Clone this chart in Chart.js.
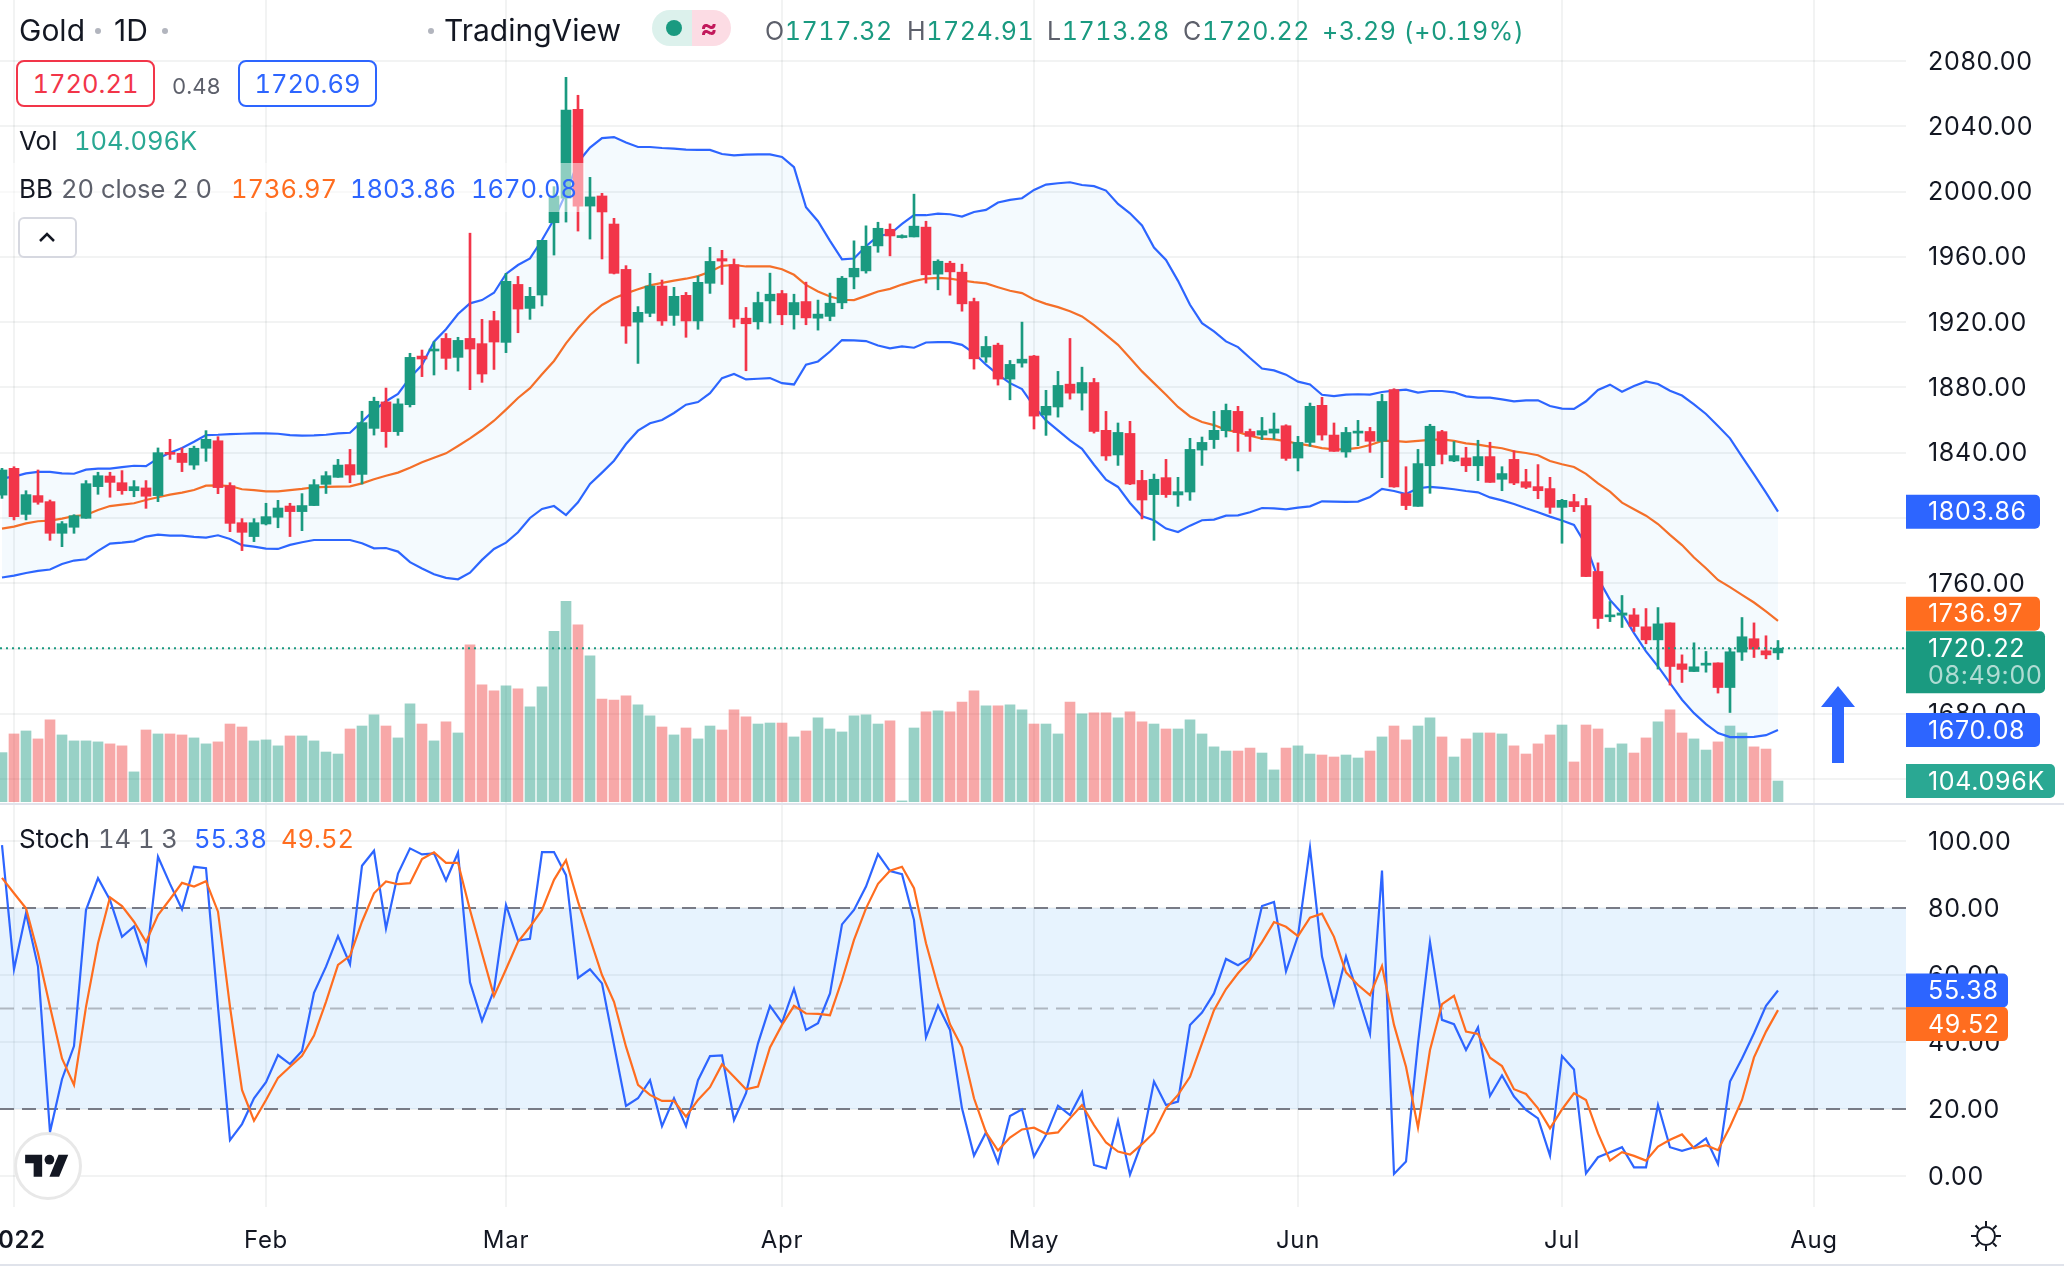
<!DOCTYPE html>
<html lang="en">

<head>
    <meta charset="UTF-8">
    <title>Gold 1D - TradingView</title>
    <script src="https://cdn.jsdelivr.net/npm/chart.js"></script>
    <style>
        html, body { margin: 0; padding: 0; background: #fff; }
        body { width: 2064px; height: 1266px; position: relative; overflow: hidden; font-family: Inter, sans-serif; color: #131722; }
        canvas { position: absolute; left: 0; display: block; }
        #pricePane { top: 0; }
        #stochPane { top: 804px; }
        .abs { position: absolute; white-space: nowrap; line-height: 1; }
        .title { font-size: 30px; top: 15px; }
        .dot { position: absolute; width: 6px; height: 6px; border-radius: 50%; background: #b2b5be; top: 28px; }
        .ohlc { font-size: 25px; top: 19px; color: #1a9a80; font-variant-numeric: tabular-nums; letter-spacing: .6px; }
        .ohlc b { font-weight: 400; color: #5d606b; }
        .box { position: absolute; top: 60px; height: 43px; width: 135px; border: 2px solid; border-radius: 8px; font-size: 25.5px; line-height: 43px; text-align: center; background: #fff; font-variant-numeric: tabular-nums; }
        .row { font-size: 26px; }
        .num { font-size: 25.5px; font-variant-numeric: tabular-nums; }
        .gray { color: #5d606b; }
        .rule { position: absolute; left: 0; width: 2064px; height: 2px; background: #e0e3eb; }
    </style>
</head>

<body>
    <canvas id="pricePane" width="2064" height="804"></canvas>
    <canvas id="stochPane" width="2064" height="462"></canvas>
    <div class="rule" style="top:803px"></div>
    <div class="rule" style="top:1264px"></div>

    <!-- Legend rows -->
    <div class="abs" style="left:0;top:163px;width:585px;height:49px;background:rgba(255,255,255,.5)"></div>
    <div class="abs title" style="left:19px">Gold</div>
    <div class="dot" style="left:95px"></div>
    <div class="abs title" style="left:114px">1D</div>
    <div class="dot" style="left:162px"></div>
    <div class="dot" style="left:428px"></div>
    <div class="abs title" style="left:444px">TradingView</div>

    <div class="abs" style="left:652px;top:10px;width:40px;height:36px;background:#dcf1ec;border-radius:18px 0 0 18px"></div>
    <div class="abs" style="left:692px;top:10px;width:39px;height:36px;background:#fcdce4;border-radius:0 18px 18px 0"></div>
    <div class="abs" style="left:666px;top:20px;width:16px;height:16px;border-radius:50%;background:#1a9a80"></div>
    <div class="abs" style="left:700px;top:15px;font-size:26px;font-weight:700;color:#c2185b">≈</div>

    <div class="abs ohlc" style="left:765px"><b>O</b>1717.32</div>
    <div class="abs ohlc" style="left:907px"><b>H</b>1724.91</div>
    <div class="abs ohlc" style="left:1047px"><b>L</b>1713.28</div>
    <div class="abs ohlc" style="left:1183px"><b>C</b>1720.22</div>
    <div class="abs ohlc" style="left:1322px">+3.29 (+0.19%)</div>

    <div class="box" style="left:16px;border-color:#f23549;color:#f23549">1720.21</div>
    <div class="abs gray" style="left:172px;top:75px;font-size:22px;font-variant-numeric:tabular-nums">0.48</div>
    <div class="box" style="left:238px;border-color:#2d65ff;color:#2d65ff">1720.69</div>

    <div class="abs row" style="left:19px;top:128px">Vol</div>
    <div class="abs num" style="left:74px;top:128px;color:#2aa893">104.096K</div>

    <div class="abs row" style="left:19px;top:176px">BB</div>
    <div class="abs num gray" style="left:61px;top:176px">20 close 2 0</div>
    <div class="abs num" style="left:231px;top:176px;color:#ff6d1f">1736.97</div>
    <div class="abs num" style="left:350px;top:176px;color:#2d65ff">1803.86</div>
    <div class="abs num" style="left:471px;top:176px;color:#2d65ff">1670.08</div>

    <div class="abs" style="left:18px;top:217px;width:55px;height:37px;border:2px solid #d6d8e0;border-radius:6px;background:#fff"></div>
    <svg class="abs" style="left:37px;top:230px" width="20" height="14" viewBox="0 0 20 14">
        <path d="M3 11 L10 4 L17 11" fill="none" stroke="#131722" stroke-width="2.5"/>
    </svg>

    <div class="abs row" style="left:19px;top:826px">Stoch</div>
    <div class="abs num gray" style="left:98px;top:826px">14 1 3</div>
    <div class="abs num" style="left:194px;top:826px;color:#2d65ff">55.38</div>
    <div class="abs num" style="left:281px;top:826px;color:#ff6d1f">49.52</div>

    <!-- Logo, arrow drawing and theme icon -->
    <div class="abs" style="left:14px;top:1132px;width:62px;height:62px;border:3px solid #e8e8e8;border-radius:50%;background:#fff"></div>
    <svg class="abs" style="left:25px;top:1150px" width="44" height="34" viewBox="0 0 36 28">
        <path fill="#131722" d="M14 22H7V11H0V4h14v18zM28 22h-8l7.5-18h8L28 22z"/>
        <circle fill="#131722" cx="20" cy="8" r="4"/>
    </svg>
    <svg class="abs" style="left:1820px;top:684px" width="36" height="82" viewBox="0 0 36 82">
        <path fill="#2d65ff" d="M18 2 L35 23 L24 23 L24 79 L12 79 L12 23 L1 23 Z"/>
    </svg>
    <svg class="abs" style="left:1970px;top:1220px" width="32" height="32" viewBox="0 0 32 32">
        <circle cx="16" cy="16" r="9" fill="none" stroke="#131722" stroke-width="2"/>
        <path d="M16 1v5M16 26v5M1 16h5M26 16h5M5.5 5.5l3.5 3.5M23 23l3.5 3.5M5.5 26.5l3.5-3.5M23 9l3.5-3.5" stroke="#131722" stroke-width="2"/>
    </svg>

    <script>
        const opens = [1814, 1830.4, 1802.2, 1813.7, 1810, 1790.6, 1794.3, 1799.8, 1819.2, 1825.7,
            1821.6, 1816.7, 1818.4, 1813.7, 1840.2, 1839.6, 1832.4, 1842.7, 1847.3, 1819.8,
            1797.1, 1788.6, 1796.3, 1800.4, 1807.3, 1803.9, 1807.6, 1820.6, 1824.9, 1832.7,
            1826.7, 1854.9, 1871.1, 1852.9, 1869.4, 1899.2, 1902.3, 1910, 1898.4, 1910,
            1906.8, 1920.9, 1907.6, 1943.1, 1928.4, 1936.6, 1980.9, 1996, 2050.4, 1991.1,
            1997.3, 1980.1, 1952.3, 1920, 1925.4, 1942.1, 1924.1, 1936.4, 1920.7, 1943.8,
            1958.9, 1955.2, 1922.4, 1920.2, 1933, 1937.5, 1924.5, 1932.6, 1922.4, 1923.5,
            1931.8, 1947.7, 1951.4, 1966.7, 1976.9, 1971.8, 1972.2, 1978.2, 1949.4, 1956.1,
            1950.6, 1932.6, 1898.6, 1905.9, 1885.1, 1894.9, 1899.2, 1863, 1868, 1882,
            1876.5, 1883, 1853.7, 1838.6, 1851.8, 1823, 1814.3, 1824.7, 1814.1, 1815.9,
            1841.6, 1848, 1853.5, 1865.3, 1853, 1850.8, 1852, 1856.5, 1836.7, 1846.3,
            1869, 1850.8, 1840.4, 1852, 1853, 1847, 1878.6, 1814.9, 1807.1, 1832,
            1852.9, 1834.9, 1836.8, 1832, 1837.6, 1823.7, 1835.9, 1822.2, 1819.2, 1818,
            1806.5, 1810, 1807.6, 1767.2, 1739.4, 1740.4, 1740.6, 1733.3, 1725.3, 1735.7,
            1710.6, 1705.9, 1709.8, 1711.2, 1696.1, 1717.8, 1726, 1718.6, 1717.32];

        const closes = [1829.4, 1800.8, 1814.3, 1809.6, 1790.6, 1796.5, 1801.4, 1821, 1825.9, 1821.8,
            1816.7, 1819.2, 1813.3, 1840, 1839, 1834, 1842.7, 1848.2, 1818.6, 1796.7,
            1791.2, 1797.1, 1800.8, 1806.1, 1803.9, 1807.6, 1820.4, 1825.9, 1832.4, 1826.3,
            1858.4, 1871.5, 1852.9, 1869.9, 1898.4, 1897.4, 1903.3, 1897.8, 1908.8, 1903.5,
            1888.2, 1907.8, 1945, 1928, 1935.8, 1970.1, 1997.3, 2050, 1991.1, 1996.7,
            1987.5, 1949.9, 1917.6, 1926, 1942.1, 1920.7, 1935.8, 1920.7, 1944.4, 1957.2,
            1957.4, 1921.9, 1919, 1932, 1937.1, 1924.5, 1932, 1922.6, 1924.9, 1931.6,
            1946.9, 1953, 1966.5, 1977.5, 1972.8, 1973, 1978.8, 1949, 1957.3, 1950.8,
            1931.2, 1897.5, 1905.1, 1885.1, 1894.1, 1897.3, 1862.4, 1868.4, 1881.2, 1876.5,
            1883, 1853, 1838, 1852.4, 1820.8, 1811, 1823.7, 1814.3, 1816.1, 1842,
            1846.3, 1853.7, 1865.9, 1852.4, 1850, 1853.5, 1854.5, 1836.5, 1846.3, 1868.4,
            1850.8, 1840.8, 1852.4, 1853, 1847, 1871.4, 1819, 1807.6, 1833.3, 1856.2,
            1839, 1838.2, 1832, 1837.6, 1821.8, 1827.2, 1821.4, 1818.8, 1816.7, 1806.5,
            1810.8, 1806.9, 1764.1, 1738.4, 1740.4, 1741.8, 1733.5, 1725.3, 1735.1, 1709,
            1707.2, 1708.8, 1711, 1696.1, 1718, 1727.2, 1719.6, 1716.1, 1720.22];

        const highs = [1830.4, 1831.4, 1816.7, 1829.4, 1811, 1797.8, 1802, 1822.9, 1828, 1828,
            1829, 1822.9, 1822.9, 1842.9, 1848.2, 1842.9, 1844, 1853.5, 1849.8, 1821.6,
            1799.6, 1799.6, 1809, 1810.8, 1809, 1814.9, 1823.5, 1828.4, 1835.9, 1842,
            1865.4, 1874, 1879.6, 1873, 1900.9, 1902.9, 1908, 1913, 1910.7, 1974.5,
            1921.7, 1926.6, 1949.9, 1948, 1941.3, 1970.1, 2003, 2070, 2059, 2008.7,
            1998.9, 1983.6, 1954.6, 1929.5, 1949.9, 1945.8, 1941.3, 1938.2, 1948.2, 1965.8,
            1964, 1958.7, 1929, 1938.4, 1950, 1939.4, 1937.1, 1944.5, 1933.5, 1937.8,
            1948, 1969.8, 1979, 1981.2, 1980.2, 1973.5, 1998.4, 1981.8, 1958.2, 1957.3,
            1955.5, 1934.7, 1911.2, 1907.1, 1896.5, 1920, 1899.6, 1878.2, 1889.8, 1910,
            1892.4, 1885.5, 1865.3, 1858.2, 1859.2, 1829.2, 1826.9, 1835.9, 1824.9, 1848.8,
            1849.6, 1865.3, 1869.8, 1868.4, 1854.5, 1861.6, 1864.3, 1857.1, 1850, 1870.4,
            1873.9, 1858.2, 1855.5, 1859.8, 1855.5, 1875.8, 1879.2, 1831.4, 1842, 1857.4,
            1853.7, 1846.8, 1843.3, 1847.6, 1846.4, 1831.4, 1841.2, 1829.8, 1832.7, 1824.9,
            1811.4, 1814.5, 1812, 1772.5, 1748.8, 1752.5, 1744.5, 1744.5, 1745.1, 1735.7,
            1716.1, 1723.5, 1718.2, 1711.2, 1720.2, 1739, 1735.7, 1727.8, 1724.91];

        const lows = [1812, 1798.8, 1798.8, 1808.4, 1786.3, 1782.4, 1790.6, 1799.8, 1814.5, 1812.7,
            1814.5, 1813, 1805.9, 1810, 1835.9, 1828.4, 1829.8, 1834.7, 1814.9, 1791.6,
            1780, 1785.5, 1795.7, 1794, 1788.6, 1792.2, 1807.6, 1815, 1824.9, 1821.6,
            1820.8, 1850.8, 1843.3, 1850.6, 1868, 1886.6, 1887.6, 1891, 1890, 1878.6,
            1883.1, 1891, 1901.3, 1913.5, 1921.7, 1929.9, 1961.1, 1981.3, 1975.8, 1970.9,
            1958.7, 1949.5, 1907, 1894.7, 1923.3, 1918, 1918, 1910.7, 1915.6, 1937.6,
            1943.1, 1916.8, 1890.2, 1915.7, 1919.4, 1918.4, 1915.7, 1918.4, 1915.1, 1920.8,
            1928.2, 1940.4, 1950, 1962.8, 1960.6, 1971.5, 1972.2, 1943.9, 1939.8, 1936.5,
            1926.7, 1891.2, 1895.3, 1881.4, 1872.4, 1892.4, 1854.5, 1850.6, 1861.8, 1872.8,
            1866.1, 1852, 1835.3, 1832.2, 1820.4, 1799.4, 1786.3, 1812.6, 1807.1, 1810.8,
            1832.2, 1842.6, 1849.6, 1840.8, 1840.8, 1848, 1848.4, 1835.3, 1828.8, 1843.9,
            1847.7, 1840.8, 1837.2, 1844.3, 1840.2, 1824.7, 1818.8, 1805.1, 1807.1, 1815.1,
            1833.1, 1834.5, 1828.4, 1822.9, 1821.8, 1816.7, 1820.4, 1818, 1811.8, 1802.8,
            1784.5, 1803.9, 1764.1, 1732.3, 1736.5, 1732.9, 1730.4, 1722.9, 1707.4, 1697.6,
            1699.2, 1705.9, 1705.5, 1692.7, 1680.8, 1712.7, 1714.5, 1713.7, 1713.28];

        // volume in thousands
        const volumes = [247, 341, 356, 316, 412, 336, 306, 306, 301, 291,
            281, 150, 361, 341, 341, 336, 321, 291, 301, 391,
            376, 306, 311, 281, 331, 331, 306, 250, 240, 366,
            381, 437, 381, 321, 492, 391, 306, 402, 346, 790,
            588, 558, 583, 568, 477, 578, 857, 1008, 890, 734,
            517, 512, 533, 487, 432, 376, 336, 371, 316, 381,
            361, 462, 427, 391, 396, 396, 326, 356, 422, 366,
            351, 432, 437, 391, 407, 4, 371, 452, 457, 452,
            502, 558, 482, 482, 487, 462, 391, 391, 341, 502,
            442, 447, 447, 422, 452, 402, 391, 366, 366, 412,
            341, 276, 255, 255, 270, 245, 160, 270, 281, 240,
            235, 225, 235, 220, 255, 326, 381, 311, 381, 422,
            326, 225, 316, 346, 346, 341, 281, 240, 291, 336,
            386, 200, 386, 366, 270, 291, 245, 321, 402, 462,
            346, 316, 260, 301, 381, 346, 276, 265, 104.096];

        const bbUpper = [1824.3, 1825.3, 1827.3, 1828.2, 1828.2, 1827.3, 1827.1, 1829.6, 1830.2, 1830.2,
            1831.2, 1832, 1831.8, 1836.5, 1840, 1842.9, 1846.7, 1850.8, 1851, 1851.4,
            1851.6, 1851.8, 1851.8, 1851.6, 1850.8, 1850.4, 1850.6, 1851, 1851.8, 1852.2,
            1859, 1866, 1871.5, 1876, 1886, 1893.7, 1908, 1915.6, 1925, 1931.5,
            1933.5, 1938, 1949.5, 1955, 1959, 1970.3, 1983, 1999, 2018, 2026.9,
            2032.8, 2033.4, 2030, 2027.3, 2027.3, 2026.7, 2026.3, 2025.7, 2025.5, 2025.5,
            2023, 2022.2, 2022.6, 2022.8, 2022.8, 2021.2, 2014.9, 1990.4, 1981.8, 1969.8,
            1958.4, 1959, 1966.5, 1972.8, 1974, 1980.2, 1985.5, 1985.5, 1986.5, 1986.1,
            1984.7, 1987.5, 1988.8, 1993.3, 1994.9, 1995.9, 2001, 2004.3, 2005.1, 2005.7,
            2004, 2003.3, 2000.6, 1992.4, 1986.7, 1979.2, 1965.7, 1958.1, 1945.3, 1930.6,
            1919.4, 1914.3, 1908.2, 1904.7, 1898, 1891.6, 1890.4, 1887.8, 1883.5, 1881.8,
            1875.5, 1874.7, 1875.6, 1875.8, 1875.6, 1877.2, 1878, 1878.6, 1876.8, 1877.8,
            1877.8, 1877, 1874.5, 1873.7, 1873.7, 1872.7, 1871.5, 1872.1, 1872.1, 1868.6,
            1867, 1866.8, 1871.5, 1878.4, 1881.7, 1877.4, 1880.9, 1883.7, 1882.1, 1878,
            1875, 1869.6, 1863.7, 1856.4, 1848.8, 1837.6, 1826.7, 1815.5, 1803.86];

        const bbMid = [1793.5, 1794.7, 1796.7, 1798, 1798.4, 1799.6, 1801.2, 1801.8, 1804.9, 1807.3,
            1808.2, 1809, 1811, 1812.7, 1814.3, 1815.5, 1817.1, 1819.8, 1820, 1819.6,
            1817.6, 1817.1, 1816.3, 1816.3, 1817.1, 1817.8, 1818.8, 1819, 1819.2, 1819.4,
            1821.2, 1823.7, 1825.9, 1827.8, 1830.8, 1834.1, 1836.9, 1839.6, 1844.1, 1848.8,
            1853.9, 1859.6, 1866.4, 1873.5, 1879.5, 1888, 1896.2, 1907, 1916.2, 1924.4,
            1930.5, 1934.6, 1937.6, 1940.1, 1942.5, 1944, 1945.4, 1946.6, 1948.2, 1950.9,
            1954.5, 1955, 1954.1, 1954.1, 1954.1, 1952.4, 1949, 1942.8, 1938.8, 1935.7,
            1933.7, 1933.5, 1936.1, 1938.8, 1940.4, 1943, 1945.1, 1946.7, 1947.1, 1946.7,
            1945.5, 1944.5, 1943.7, 1941.4, 1939.2, 1937.8, 1933.9, 1931.2, 1929.2, 1926.7,
            1923.5, 1918.2, 1912.2, 1906.1, 1898, 1889.8, 1882.6, 1875.5, 1868, 1862.2,
            1858.8, 1856.9, 1854, 1852.6, 1850.4, 1848.6, 1848.2, 1847.1, 1845.5, 1844.3,
            1842.8, 1842, 1842, 1842.9, 1844.7, 1847.2, 1847.2, 1846.6, 1847.2, 1847.8,
            1848.2, 1847.2, 1845.7, 1844.9, 1843.7, 1842.7, 1840.8, 1839.8, 1838.4, 1834.9,
            1832.9, 1831.2, 1827, 1821.2, 1816.1, 1809.4, 1805.3, 1801.4, 1796.3, 1789.6,
            1783.4, 1775.8, 1769.2, 1762, 1757.6, 1752.9, 1748.2, 1742.7, 1736.97];

        const bbLower = [1763.5, 1764.7, 1766.3, 1767.6, 1768.4, 1771.8, 1773.9, 1774.7, 1779.8, 1784.3,
            1784.9, 1785.7, 1788.6, 1789.8, 1789.2, 1789.2, 1788.4, 1788, 1789.4, 1787.1,
            1783.3, 1782.4, 1781.2, 1781, 1783.5, 1785.1, 1786.5, 1786.5, 1786.5, 1786.5,
            1784.5, 1781.4, 1781.6, 1779.4, 1772.9, 1769, 1765.5, 1763.3, 1762.4, 1766.5,
            1774.3, 1781, 1784.9, 1791.2, 1800, 1805.5, 1807.3, 1801.8, 1809.6, 1820.8,
            1827.8, 1835.1, 1845.3, 1853.5, 1858, 1860, 1864.3, 1869.4, 1871, 1876.5,
            1885.7, 1888.2, 1884.9, 1885.3, 1885.7, 1882.6, 1881.8, 1893.9, 1895.9, 1902,
            1909, 1908.8, 1908.4, 1905.7, 1903.9, 1905.1, 1904.3, 1907.5, 1907.7, 1907.7,
            1906.1, 1901, 1893.9, 1887.8, 1882.6, 1879, 1868.4, 1859.8, 1853.7, 1847.5,
            1842.4, 1832.6, 1823.5, 1819, 1809.2, 1801, 1798.6, 1793.5, 1791.4, 1795.3,
            1798.6, 1799, 1801.4, 1801.6, 1803.5, 1806.1, 1805.9, 1805.3, 1806.3, 1807.1,
            1810.2, 1810, 1809.8, 1810, 1812.9, 1817.8, 1816.5, 1814.7, 1818.2, 1819,
            1818.4, 1817.6, 1816.5, 1815.7, 1812.6, 1810.8, 1808.6, 1805.9, 1803.5, 1800.8,
            1798.4, 1795.7, 1783.5, 1763, 1749.8, 1741.6, 1729.4, 1718.2, 1709, 1698.8,
            1688.6, 1680.4, 1673.7, 1668.2, 1665.7, 1665.7, 1665.9, 1666.9, 1670.08];

        const stochK = [98.8, 61.7, 78.4, 62.5, 13.1, 28.9, 38.8, 79.4, 88.9, 82.4,
            71.4, 74.5, 63.5, 95.3, 87.2, 79.6, 92.3, 91.9, 50.5, 10.7,
            15.5, 23.2, 28, 36.1, 33.4, 37.3, 54.7, 62.5, 71.6, 63.2,
            92.6, 97.1, 73.9, 90.3, 97.8, 96, 96.3, 88.2, 96.5, 57.8,
            46.3, 55.5, 80.9, 70.3, 70.8, 96.7, 96.7, 89.8, 59.1, 61.7,
            57.5, 39.1, 20.9, 23.2, 28.6, 14.9, 23.2, 14.9, 28.6, 35.8,
            36, 16.7, 24.7, 39.6, 50.8, 45.8, 55.9, 43.6, 45.6, 54.5,
            75.1, 79.4, 86.4, 96.1, 91, 90.1, 76.4, 41.4, 50.9, 43.6,
            20.2, 6.1, 13, 4, 17.9, 19.9, 5.8, 12.2, 21, 18.2,
            25, 3.3, 2.3, 16.5, 0.4, 10.2, 28.2, 21.2, 22.2, 45.1,
            48.8, 54.5, 64.8, 62.9, 65.1, 80.6, 81.8, 61.1, 71.7, 98,
            65.5, 51.1, 65.5, 54, 42.4, 91.2, 0.6, 4.3, 39.6, 69.8,
            46.6, 45.3, 37.6, 44.4, 23.9, 30, 23.7, 19.7, 17.2, 6.1,
            35.8, 31.8, 0.8, 5.6, 7.1, 8.6, 2.6, 2.6, 21.2, 8.6,
            7.5, 8.6, 11.2, 3.6, 28.2, 35.1, 42.6, 50.8, 55.38];

        const stochD = [89, 84.4, 79.9, 66.5, 50.5, 35.1, 27.2, 50.5, 69.5, 83.2,
            80.6, 75.9, 69.9, 77.9, 82.6, 87.5, 86.4, 88, 78.9, 50.5,
            25.7, 16.5, 22.7, 29.3, 32.6, 35.9, 41.9, 52, 63, 65.7,
            75.9, 84.4, 87.9, 87.1, 87.4, 94.6, 96.6, 93.5, 93.5, 79.4,
            66.5, 53.7, 61.7, 69.9, 74.4, 79.4, 88.4, 94.3, 81.9, 70.9,
            60, 52, 38.6, 27.2, 24.2, 22.4, 22.4, 17.7, 22.7, 26.5,
            33.3, 29.6, 25.9, 26.7, 38.4, 45.1, 50.8, 48.5, 48.4, 48,
            58.5, 70.5, 79.9, 87.2, 91.1, 92.3, 85.9, 69.5, 56.5, 45.3,
            38.4, 23.2, 13, 7.6, 11.5, 13.9, 14.4, 12.6, 13, 17.2,
            21.2, 15.2, 10, 7.3, 6.4, 9.5, 13, 20.2, 24.2, 29.6,
            39.6, 49.5, 55.8, 60.5, 64.5, 69.8, 75.8, 74.4, 71.6, 77.1,
            78.3, 71.4, 60.8, 57, 54, 62.7, 45.1, 32.6, 14.4, 37.6,
            51.3, 53.8, 43.1, 42.4, 35.3, 32.8, 25.9, 24.5, 20.2, 14.2,
            19.9, 24.7, 22.7, 12.7, 4.6, 7.1, 6, 4.6, 8.8, 10.8,
            12.4, 8.3, 9.2, 7.7, 14.7, 22.7, 35.4, 43.1, 49.52];

        const monthTicks = [1, 22, 42, 65, 86, 108, 130, 151];
        const monthLabels = ["2022", "Feb", "Mar", "Apr", "May", "Jun", "Jul", "Aug"];
        const priceTicks = [1640, 1680, 1720, 1760, 1800, 1840, 1880, 1920, 1960, 2000, 2040, 2080];
        const stochTicks = [0, 20, 40, 60, 80, 100];
        const lastClose = 1720.22;

        const GREEN = "#1a9a80", RED = "#f23549", BLUE = "#2d65ff", ORANGE = "#ff6d1f";
        const GRID = "rgba(42,46,57,.06)";
        const FONT = "Inter, sans-serif";

        // one bar is 12px wide, first bar centre sits at x=2, plot ends at x=1906
        const X_MIN = -2 / 12, X_MAX = 1904 / 12;

        const isUp = opens.map((o, i) => closes[i] >= o);
        const candleColors = isUp.map((u) => (u ? GREEN : RED));
        const volumeColors = isUp.map((u) => (u ? "rgba(26,154,128,.45)" : "rgba(237,54,54,.43)"));
        const series = (arr) => arr.map((v, i) => ({ x: i, y: v }));
        const flat = (v) => [{ x: X_MIN, y: v }, { x: X_MAX, y: v }];

        function xAxis(height, showLabels) {
            return {
                type: "linear", min: X_MIN, max: X_MAX, offset: false,
                grid: { color: GRID, lineWidth: 2, drawTicks: false, offset: false },
                border: { display: false },
                ticks: {
                    display: showLabels, autoSkip: false, maxRotation: 0, padding: 19, color: "#131722",
                    font: (c) => ({ family: FONT, size: 24, weight: c.index === 0 ? "600" : "400" }),
                    callback: (v, i) => monthLabels[i],
                },
                afterBuildTicks: (s) => { s.ticks = monthTicks.map((v) => ({ value: v })); },
                afterFit: (s) => { s.height = height; s.paddingLeft = 0; s.paddingRight = 0; },
            };
        }

        function yAxis(min, max, ticks) {
            return {
                position: "right", min: min, max: max,
                grid: { color: GRID, lineWidth: 2, drawTicks: false },
                border: { display: false },
                ticks: {
                    padding: 22, labelOffset: 1, color: "#131722", font: { family: FONT, size: 25 },
                    callback: (v) => v.toFixed(2),
                },
                afterBuildTicks: (s) => { s.ticks = ticks.map((v) => ({ value: v })); },
                afterFit: (s) => { s.width = 158; s.paddingTop = 0; s.paddingBottom = 0; },
            };
        }

        function line(data, color, yAxisID, order, extra) {
            return Object.assign({
                type: "line", data: data, borderColor: color, borderWidth: 2.2, pointRadius: 0,
                tension: 0, fill: false, yAxisID: yAxisID, order: order,
            }, extra || {});
        }

        // digits in the reference run wider than Inter, so loosen the canvas text a little
        const spacingPlugin = { id: "spacing", beforeDraw(chart) { chart.ctx.letterSpacing = "0.7px"; } };

        // labels sitting on the price axis, drawn last so they cover the tick text
        function tagPlugin(tags) {
            return {
                id: "tags",
                afterDraw(chart) {
                    const ctx = chart.ctx;
                    tags.forEach((t) => {
                        const y = chart.scales[t.axis].getPixelForValue(t.value);
                        const top = y + (t.top !== undefined ? t.top : -17);
                        const h = t.height || 34;
                        ctx.save();
                        ctx.fillStyle = t.color;
                        ctx.beginPath();
                        ctx.roundRect(1906, top, t.width, h, [0, 5, 5, 0]);
                        ctx.fill();
                        ctx.font = `25px ${FONT}`;
                        ctx.textBaseline = "middle";
                        ctx.fillStyle = "#fff";
                        ctx.fillText(t.label, 1928, top + 18);
                        if (t.sub) {
                            ctx.fillStyle = "rgba(255,255,255,.65)";
                            ctx.fillText(t.sub, 1928, top + 45);
                        }
                        ctx.restore();
                    });
                },
            };
        }

        new Chart(document.getElementById("pricePane"), {
            data: {
                datasets: [
                    { type: "bar", data: series(volumes), backgroundColor: volumeColors, barThickness: 10, grouped: false, yAxisID: "yVol", order: 6 },
                    line(series(bbUpper), BLUE, "y", 4, { fill: "+2", backgroundColor: "rgba(33,150,243,.05)" }),
                    line(series(bbMid), ORANGE, "y", 4),
                    line(series(bbLower), BLUE, "y", 4),
                    {
                        type: "bar", data: lows.map((l, i) => ({ x: i, y: [l, highs[i]] })),
                        backgroundColor: candleColors, barThickness: 2, grouped: false, yAxisID: "y", order: 3,
                    },
                    {
                        type: "bar", data: opens.map((o, i) => ({ x: i, y: [o, closes[i]] })),
                        backgroundColor: candleColors, barThickness: 10, minBarLength: 2, grouped: false, yAxisID: "y", order: 2,
                    },
                    line(flat(lastClose), GREEN, "y", 1, { borderDash: [2, 4], borderWidth: 2 }),
                ],
            },
            options: {
                responsive: false, animation: false, devicePixelRatio: 1,
                layout: { padding: 0 },
                plugins: { legend: { display: false }, tooltip: { enabled: false } },
                events: [],
                scales: {
                    x: xAxis(0, false),
                    y: yAxis(2080 - 743 / 1.632, 2080 + 61 / 1.632, priceTicks),
                    yVol: { display: false, min: -11.6, max: 4035 },
                },
            },
            plugins: [spacingPlugin, tagPlugin([
                { axis: "y", value: bbUpper[148], label: "1803.86", color: BLUE, width: 134 },
                { axis: "y", value: bbMid[148], label: "1736.97", color: ORANGE, width: 134, top: -24 },
                { axis: "y", value: lastClose, label: "1720.22", sub: "08:49:00", color: GREEN, width: 139, height: 62 },
                { axis: "y", value: bbLower[148], label: "1670.08", color: BLUE, width: 134 },
                { axis: "yVol", value: volumes[148], label: "104.096K", color: "#2aa893", width: 149 },
            ])],
        });

        new Chart(document.getElementById("stochPane"), {
            data: {
                datasets: [
                    line(flat(80), "#787b86", "y", 4, { fill: "+2", backgroundColor: "rgba(33,150,243,.11)", borderDash: [14, 8] }),
                    line(flat(50), "rgba(120,123,134,.5)", "y", 3, { borderDash: [14, 8] }),
                    line(flat(20), "#787b86", "y", 3, { borderDash: [14, 8] }),
                    line(series(stochK), BLUE, "y", 2),
                    line(series(stochD), ORANGE, "y", 1),
                ],
            },
            options: {
                responsive: false, animation: false, devicePixelRatio: 1,
                layout: { padding: 0 },
                plugins: { legend: { display: false }, tooltip: { enabled: false } },
                events: [],
                scales: {
                    x: xAxis(59, true),
                    y: yAxis(-31 / 3.35, 372 / 3.35, stochTicks),
                },
            },
            plugins: [spacingPlugin, tagPlugin([
                { axis: "y", value: stochK[148], label: "55.38", color: BLUE, width: 102 },
                { axis: "y", value: stochD[148], label: "49.52", color: ORANGE, width: 102, top: -3 },
            ])],
        });
    </script>
</body>

</html>
